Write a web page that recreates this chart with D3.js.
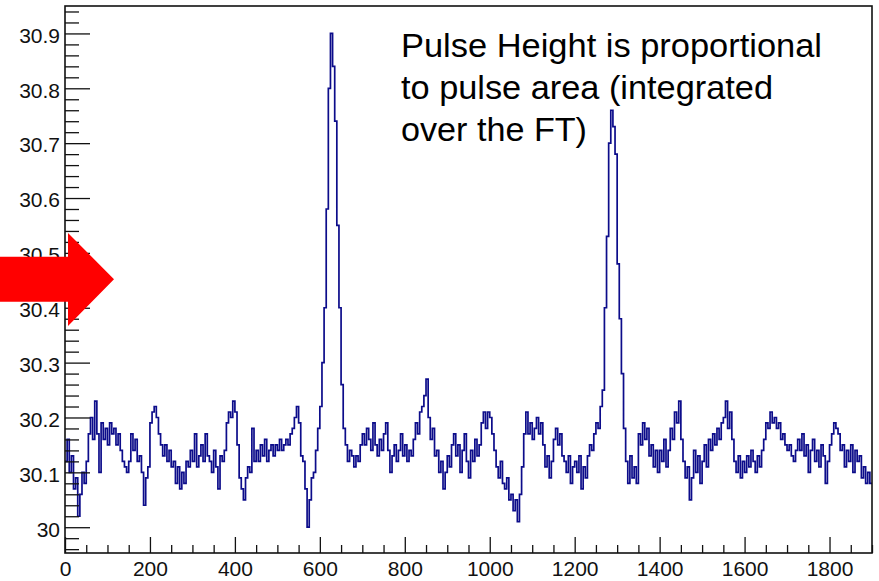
<!DOCTYPE html>
<html>
<head>
<meta charset="utf-8">
<script src="https://cdn.jsdelivr.net/npm/d3@7/dist/d3.min.js"></script>
<style>
  html, body { margin: 0; padding: 0; background: #ffffff; }
  svg { display: block; }
  text { font-family: "Liberation Sans", Arial, Helvetica, sans-serif; }
</style>
</head>
<body>
<svg id="chart" width="879" height="581"></svg>
<script>
// ---- data (bin width 5, x from 0 to 1900) ----
const binWidth = 5;
const xDomain = [0, 1900];
const yDomain = [29.953, 30.95];
const values = [
  // 0-100
  30.12,30.16,30.10,30.13,30.07,30.09,30.02,30.06,30.10,30.08,30.12,30.17,30.20,30.16,30.23,30.17,30.10,30.19,30.16,30.18,
  // 100-200
  30.15,30.19,30.17,30.18,30.15,30.17,30.14,30.12,30.11,30.10,30.12,30.17,30.14,30.16,30.12,30.13,30.10,30.04,30.09,30.11,
  // 200-300
  30.19,30.21,30.22,30.20,30.17,30.15,30.13,30.15,30.12,30.14,30.11,30.12,30.08,30.11,30.07,30.10,30.08,30.12,30.11,30.14,
  // 300-400
  30.12,30.17,30.11,30.13,30.15,30.12,30.17,30.13,30.12,30.10,30.14,30.11,30.07,30.13,30.12,30.14,30.19,30.21,30.20,30.23,
  // 400-500
  30.21,30.15,30.09,30.07,30.05,30.09,30.11,30.10,30.18,30.12,30.14,30.12,30.15,30.13,30.16,30.12,30.14,30.15,30.13,30.15,
  // 500-600
  30.14,30.16,30.14,30.15,30.16,30.15,30.17,30.18,30.20,30.22,30.19,30.13,30.12,30.07,30.00,30.05,30.09,30.10,30.14,30.18,
  // 600-700
  30.22,30.30,30.40,30.58,30.80,30.90,30.84,30.74,30.55,30.40,30.26,30.18,30.15,30.12,30.14,30.13,30.11,30.13,30.12,30.15,
  // 700-800
  30.17,30.15,30.18,30.16,30.14,30.19,30.15,30.13,30.16,30.14,30.17,30.19,30.14,30.10,30.13,30.15,30.12,30.14,30.17,30.13,
  // 800-900
  30.15,30.12,30.14,30.13,30.16,30.19,30.17,30.21,30.22,30.24,30.27,30.20,30.16,30.18,30.13,30.14,30.10,30.12,30.07,30.10,
  // 900-1000
  30.13,30.11,30.15,30.17,30.13,30.15,30.10,30.14,30.17,30.12,30.09,30.14,30.12,30.16,30.13,30.15,30.19,30.21,30.18,30.21,
  // 1000-1100
  30.20,30.17,30.14,30.11,30.09,30.12,30.08,30.07,30.09,30.05,30.06,30.03,30.05,30.01,30.06,30.11,30.17,30.21,30.17,30.19,
  // 1100-1200
  30.16,30.18,30.20,30.17,30.19,30.15,30.11,30.13,30.09,30.12,30.16,30.18,30.15,30.17,30.13,30.12,30.10,30.13,30.08,30.11,
  // 1200-1300
  30.12,30.10,30.13,30.07,30.11,30.09,30.13,30.15,30.14,30.17,30.19,30.18,30.22,30.25,30.40,30.53,30.70,30.76,30.73,30.68,
  // 1300-1400
  30.48,30.38,30.28,30.18,30.12,30.08,30.13,30.09,30.11,30.08,30.17,30.15,30.19,30.16,30.18,30.13,30.15,30.11,30.14,30.10,
  // 1400-1500
  30.14,30.12,30.16,30.11,30.14,30.18,30.16,30.21,30.19,30.23,30.16,30.12,30.09,30.11,30.05,30.09,30.14,30.10,30.13,30.08,
  // 1500-1600
  30.12,30.15,30.11,30.16,30.14,30.17,30.15,30.18,30.16,30.19,30.20,30.23,30.18,30.21,30.16,30.12,30.10,30.13,30.09,30.12,
  // 1600-1700
  30.10,30.13,30.11,30.14,30.12,30.10,30.13,30.11,30.14,30.16,30.19,30.18,30.21,30.19,30.20,30.18,30.19,30.16,30.17,30.15,
  // 1700-1800
  30.14,30.15,30.13,30.12,30.14,30.16,30.14,30.17,30.13,30.15,30.10,30.14,30.16,30.12,30.14,30.11,30.15,30.13,30.08,30.12,
  // 1800-1900
  30.15,30.17,30.19,30.18,30.17,30.14,30.15,30.11,30.14,30.12,30.15,30.10,30.14,30.12,30.13,30.09,30.11,30.08,30.10,30.08
];
const xMajorTicks = [0, 200, 400, 600, 800, 1000, 1200, 1400, 1600, 1800];
const xMinorTicks = d3.range(0, 1901, 50).filter(v => v % 200 !== 0);
const yMajorTicks = [30.0, 30.1, 30.2, 30.3, 30.4, 30.5, 30.6, 30.7, 30.8, 30.9];
const yTickLabels = ["30", "30.1", "30.2", "30.3", "30.4", "30.5", "30.6", "30.7", "30.8", "30.9"];
const yMinorTicks = d3.range(0, 50).map(i => +(29.96 + i * 0.02).toFixed(2))
  .filter(v => v <= 30.945 && Math.abs(Math.round(v * 10) / 10 - v) > 1e-6);
const noteLines = ["Pulse Height is proportional", "to pulse area (integrated", "over the FT)"];
const noteWidths = [421, 372, 186];

// ---- layout ----
const W = 879, H = 581;
const margin = { left: 65, top: 6, right: 7, bottom: 28 };
const svg = d3.select("#chart");
svg.append("rect").attr("width", W).attr("height", H).attr("fill", "#ffffff");

const x = d3.scaleLinear().domain(xDomain).range([margin.left, W - margin.right]);
const y = d3.scaleLinear().domain(yDomain).range([H - margin.bottom, margin.top]);

svg.append("defs").append("clipPath").attr("id", "plotclip")
  .append("rect")
  .attr("x", margin.left).attr("y", margin.top)
  .attr("width", W - margin.left - margin.right)
  .attr("height", H - margin.top - margin.bottom);

// histogram step line
const pts = values.map((v, i) => [i * binWidth, v]);
pts.push([values.length * binWidth, values[values.length - 1]]);
const line = d3.line().x(d => x(d[0])).y(d => y(d[1])).curve(d3.curveStepAfter);
svg.append("path")
  .attr("clip-path", "url(#plotclip)")
  .attr("d", line(pts))
  .attr("fill", "none")
  .attr("stroke", "#0c0c8a")
  .attr("stroke-width", 1.7)
  .attr("stroke-linejoin", "miter");

// axes
const xAxisMajor = d3.axisBottom(x).tickValues(xMajorTicks).tickSize(-16).tickPadding(8)
  .tickFormat(d => String(d));
const xAxisMinor = d3.axisBottom(x).tickValues(xMinorTicks).tickSize(-8).tickFormat("");
const yAxisMajor = d3.axisLeft(y).tickValues(yMajorTicks).tickSize(-25).tickPadding(5)
  .tickFormat((d, i) => yTickLabels[i]);
const yAxisMinor = d3.axisLeft(y).tickValues(yMinorTicks).tickSize(-14).tickFormat("");

const gx = svg.append("g").attr("transform", `translate(0,${H - margin.bottom})`);
gx.call(xAxisMajor);
gx.append("g").call(xAxisMinor);
const gy = svg.append("g").attr("transform", `translate(${margin.left},0)`);
gy.call(yAxisMajor);
gy.append("g").call(yAxisMinor);

svg.selectAll(".domain").remove();
svg.selectAll(".tick line").attr("stroke", "#111").attr("stroke-width", 1.3);
gx.selectAll(".tick text").attr("font-size", 21).attr("fill", "#111")
  .attr("font-family", "'Liberation Sans', Arial, sans-serif");
gy.selectAll(".tick text").attr("font-size", 21).attr("fill", "#111").attr("dy", "0.42em")
  .attr("font-family", "'Liberation Sans', Arial, sans-serif");

// frame
svg.append("rect")
  .attr("x", margin.left).attr("y", margin.top)
  .attr("width", W - margin.left - margin.right)
  .attr("height", H - margin.top - margin.bottom)
  .attr("fill", "none").attr("stroke", "#111").attr("stroke-width", 1.6);

// annotation text
const note = svg.append("text").attr("font-size", 34).attr("fill", "#000");
noteLines.forEach((t, i) => {
  note.append("tspan").attr("x", 401).attr("y", 57 + i * 42)
    .attr("textLength", noteWidths[i]).attr("lengthAdjust", "spacingAndGlyphs").text(t);
});

// red arrow annotation
const arrowTipY = y(30.452);
const arrow = [
  [0, arrowTipY - 22.6], [68, arrowTipY - 22.6], [68, arrowTipY - 46.3],
  [114, arrowTipY], [68, arrowTipY + 46.7], [68, arrowTipY + 22.4], [0, arrowTipY + 22.4]
];
svg.append("polygon")
  .attr("points", arrow.map(p => p.join(",")).join(" "))
  .attr("fill", "#ff0000");
</script>
</body>
</html>
